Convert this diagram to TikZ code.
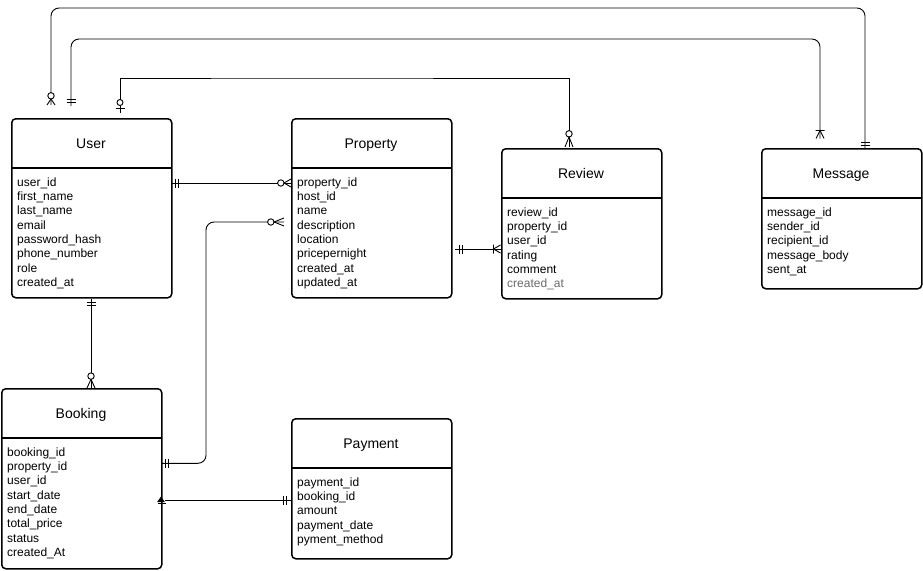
\documentclass[tikz,border=0pt]{standalone}
\usepackage{fontspec}
\setmainfont{Liberation Sans}
\usetikzlibrary{calc}
\definecolor{fgray}{HTML}{6A6A6A}
\tikzset{
  entity/.style={draw, line width=1.5pt, rounded corners=4pt, minimum width=160pt, inner sep=0pt, anchor=north west},
  divider/.style={line width=1.5pt},
  ttl/.style={font=\fontsize{14}{16}\selectfont, inner sep=0pt, anchor=base},
  fld/.style={anchor=base west, inner sep=0pt, font=\fontsize{12}{14}\selectfont},
  conn/.style={line width=0.9pt},
  mk/.style={line width=0.9pt},
}
\newcommand{\mkmandone}[2]{\begin{scope}[shift={#1},rotate=#2]\draw[mk] (4,-4.5)--(4,4.5) (7,-4.5)--(7,4.5);\end{scope}}
\newcommand{\mkzmany}[3]{\begin{scope}[shift={#1},rotate=#2]\draw[mk] (0,-4)--(#3,0)--(0,4);\draw[mk,fill=white] ({#3+3.2},0) circle[radius=3.2pt];\end{scope}}
\newcommand{\mkzone}[2]{\begin{scope}[shift={#1},rotate=#2]\draw[mk] (5,-4.5)--(5,4.5);\draw[mk,fill=white] (10.5,0) circle[radius=3pt];\end{scope}}
\newcommand{\mkonemany}[3]{\begin{scope}[shift={#1},rotate=#2]\draw[mk] (0,-4)--(#3,0)--(0,4) (#3,-4.5)--(#3,4.5);\end{scope}}
\begin{document}
\begin{tikzpicture}[x=1pt,y=-1pt]
\useasboundingbox (0,0) rectangle (923,570);
% entities
\node[entity, minimum height=179pt] (user) at (11,118) {};
\node[entity, minimum height=179pt] (property) at (291,118) {};
\node[entity, minimum height=150pt] (review) at (501,148) {};
\node[entity, minimum height=140pt] (message) at (761,148) {};
\node[entity, minimum height=180pt] (booking) at (1,388) {};
\node[entity, minimum height=140pt] (payment) at (291,418) {};
\draw[divider] (11,168) -- (171,168);
\draw[divider] (291,168) -- (451,168);
\draw[divider] (501,198) -- (661,198);
\draw[divider] (761,198) -- (921,198);
\draw[divider] (1,438) -- (161,438);
\draw[divider] (291,468) -- (451,468);
% titles
\node[ttl] (userT) at (91,148.2) {User};
\node[ttl] (propertyT) at (371,148.2) {Property};
\node[ttl] (reviewT) at (581,178.2) {Review};
\node[ttl] (messageT) at (841,178.2) {Message};
\node[ttl] (bookingT) at (81,418.2) {Booking};
\node[ttl] (paymentT) at (371,448.2) {Payment};
% fields
\foreach \t [count=\i] in {user\_id, first\_name, last\_name, email, password\_hash, phone\_number, role, created\_at}
  \node[fld] (uf\i) at (17,{186.2+14.3*(\i-1)}) {\t};
\foreach \t [count=\i] in {property\_id, host\_id, name, description, location, pricepernight, created\_at, updated\_at}
  \node[fld] (pf\i) at (297,{186.2+14.3*(\i-1)}) {\t};
\foreach \t [count=\i] in {review\_id, property\_id, user\_id, rating, comment}
  \node[fld] (rf\i) at (507,{216.2+14.3*(\i-1)}) {\t};
\node[fld, text=fgray] (rf6) at (507,{216.2+14.3*5}) {created\_at};
\foreach \t [count=\i] in {message\_id, sender\_id, recipient\_id, message\_body, sent\_at}
  \node[fld] (mf\i) at (767,{216.2+14.3*(\i-1)}) {\t};
\foreach \t [count=\i] in {booking\_id, property\_id, user\_id, start\_date, end\_date, total\_price, status, created\_At}
  \node[fld] (bf\i) at (7,{456.2+14.3*(\i-1)}) {\t};
\foreach \t [count=\i] in {payment\_id, booking\_id, amount, payment\_date, pyment\_method}
  \node[fld] (yf\i) at (297,{486.2+14.3*(\i-1)}) {\t};
% connector end points
\coordinate (uA) at (51,105);  \coordinate (cA) at (400,8);  \coordinate (mA) at (865,149);
\coordinate (uB) at (71,106);  \coordinate (cB) at (400,39); \coordinate (mB) at (820,138.5);
\coordinate (uC) at (120,113); \coordinate (cC) at (300,78); \coordinate (rC) at (569,147);
\coordinate (uD) at (171,183); \coordinate (pD) at (291,183);
\coordinate (bE) at (161,463.3); \coordinate (cE) at (206,340); \coordinate (pE) at (284,222);
\coordinate (pF) at (455,249); \coordinate (rF) at (500.5,249);
\coordinate (uG) at (91,298.5); \coordinate (bG) at (91,388);
\coordinate (yH) at (290.7,500); \coordinate (bH) at (161,500);
% connectors
\draw[conn, rounded corners=8pt] (uA) |- (cA) -| (mA);
\draw[conn, rounded corners=8pt] (uB) |- (cB) -| (mB);
\draw[conn] (uC) |- (cC) -| (rC);
\draw[conn] (uD) -- (pD);
\draw[conn, rounded corners=8pt] (bE) -| (cE) |- (pE);
\draw[conn] (pF) -- (rF);
\draw[conn] (uG) -- (bG);
\draw[conn] (yH) -- ($(bH)+(4,0)$);
% markers
\mkzmany{(uA)}{90}{6}
\mkmandone{(mA)}{90}
\mkmandone{(uB)}{90}
\mkonemany{(mB)}{90}{8}
\mkzone{(uC)}{90}
\mkzmany{(rC)}{90}{10}
\mkmandone{(uD)}{0}
\mkzmany{(pD)}{180}{7}
\mkmandone{(bE)}{0}
\mkzmany{(pE)}{180}{10}
\mkmandone{(pF)}{0}
\mkonemany{(rF)}{180}{7}
\mkmandone{(uG)}{270}
\mkzmany{(bG)}{90}{8.7}
\mkmandone{(yH)}{180}
\begin{scope}[shift={(bH)}]
  \fill (-3.8,2) -- (0,-3.5) -- (3.8,2) -- cycle;
  \draw[mk] (-3,3.7) -- (5,3.7);
\end{scope}
\end{tikzpicture}
\end{document}
